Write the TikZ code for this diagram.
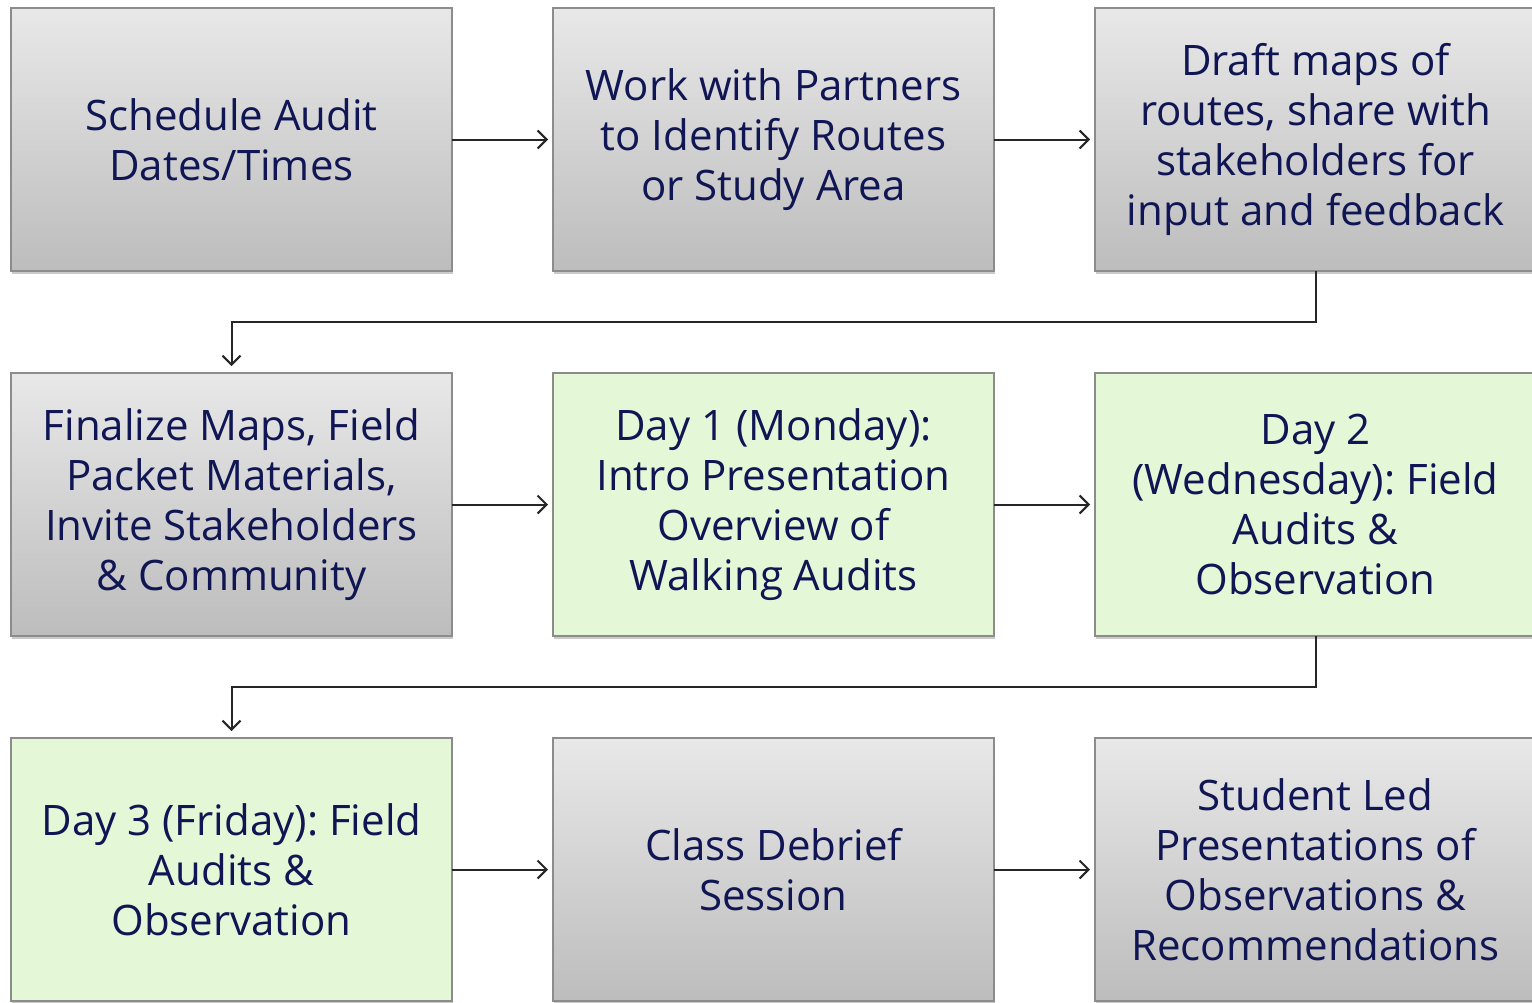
\documentclass[tikz,border=0pt]{standalone}
\usepackage{fontspec}
\setmainfont{Open Sans}
\frenchspacing
\usetikzlibrary{positioning,shadows,arrows.meta}
\definecolor{navytext}{RGB}{16,22,84}
\definecolor{dayfill}{RGB}{228,248,216}
\definecolor{boxline}{RGB}{140,140,140}

\begin{document}
\begin{tikzpicture}[
    x=1pt, y=-1pt,
    step box/.style={rectangle, draw=boxline, line width=1.5pt, minimum width=441pt, minimum height=263pt,
        outer sep=0pt, align=center, text=navytext, font=\fontsize{42}{50}\selectfont,
        drop shadow={shadow xshift=1pt, shadow yshift=-3pt, opacity=0.35, fill=black!60}},
    prep/.style={step box, top color=black!9, bottom color=black!26},
    day/.style={step box, fill=dayfill},
    flow/.style={draw=black!85, line width=2pt, -{Straight Barb[length=9pt,width=18pt,line width=2pt]}},
    node distance=101pt and 101pt,
]
\useasboundingbox (0,0) rectangle (1532,1002);
\clip (0,0) rectangle (1532,1002);

% first row: preparation
\node[prep] (schedule) at (231.5,139.5) {Schedule Audit\\Dates/Times};
\node[prep, right=of schedule] (partners) {Work with Partners\\to Identify Routes\\or Study Area};
\node[prep, right=of partners] (draft) {Draft maps of\\routes, share with\\stakeholders for\\input and feedback};

% second row
\node[prep, below=102pt of schedule] (finalize) {Finalize Maps, Field\\Packet Materials,\\Invite Stakeholders\\\& Community};
\node[day, right=of finalize] (day1) {Day 1 (Monday):\\Intro Presentation\\Overview of\\Walking Audits};
\node[day, right=of day1] (day2) {Day 2\\(Wednesday): Field\\Audits \&\\Observation};

% third row
\node[day, below=102pt of finalize] (day3) {Day 3 (Friday): Field\\Audits \&\\Observation};
\node[prep, right=of day3] (debrief) {Class Debrief\\Session};
\node[prep, right=of debrief] (present) {Student Led\\Presentations of\\Observations \&\\Recommendations};

% connectors
\draw[flow] (schedule.east) -- ([xshift=-5pt]partners.west);
\draw[flow] (partners.east) -- ([xshift=-5pt]draft.west);
\draw[flow] (draft.south) -- ++(0,51) -| ([yshift=7pt]finalize.north);
\draw[flow] (finalize.east) -- ([xshift=-5pt]day1.west);
\draw[flow] (day1.east) -- ([xshift=-5pt]day2.west);
\draw[flow] (day2.south) -- ++(0,51) -| ([yshift=7pt]day3.north);
\draw[flow] (day3.east) -- ([xshift=-5pt]debrief.west);
\draw[flow] (debrief.east) -- ([xshift=-5pt]present.west);
\end{tikzpicture}
\end{document}
